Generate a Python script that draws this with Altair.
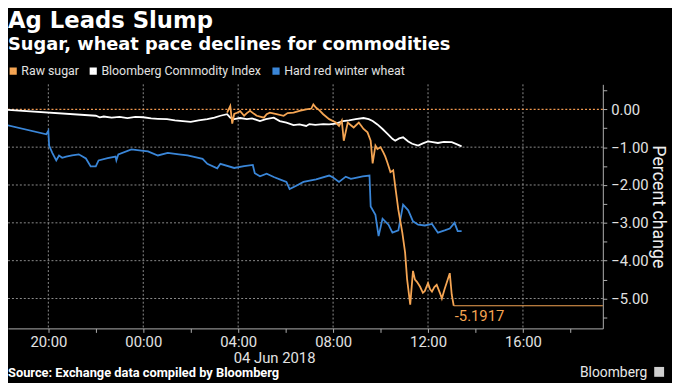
import altair as alt
import pandas as pd

# ---------------- data ----------------
series_names = ["Raw sugar", "Bloomberg Commodity Index", "Hard red winter wheat"]
series_colors = ["#f5a553", "#ffffff", "#3a86d8"]

bcom_time = [
    "2018-06-03T18:00", "2018-06-03T22:00", "2018-06-03T22:10", "2018-06-03T22:20",
    "2018-06-03T22:40", "2018-06-03T23:00", "2018-06-03T23:20", "2018-06-03T23:40",
    "2018-06-04T00:00", "2018-06-04T00:20", "2018-06-04T00:37", "2018-06-04T01:00",
    "2018-06-04T01:20", "2018-06-04T01:40", "2018-06-04T02:00", "2018-06-04T02:20",
    "2018-06-04T02:42", "2018-06-04T03:00", "2018-06-04T03:15", "2018-06-04T03:32",
    "2018-06-04T03:40", "2018-06-04T03:50", "2018-06-04T04:05", "2018-06-04T04:22",
    "2018-06-04T04:35", "2018-06-04T04:55", "2018-06-04T05:10", "2018-06-04T05:30",
    "2018-06-04T05:45", "2018-06-04T06:02", "2018-06-04T06:20", "2018-06-04T06:35",
    "2018-06-04T06:52", "2018-06-04T07:00", "2018-06-04T07:15", "2018-06-04T07:35",
    "2018-06-04T07:50", "2018-06-04T08:07", "2018-06-04T08:25", "2018-06-04T08:40",
    "2018-06-04T08:57", "2018-06-04T09:17", "2018-06-04T09:30", "2018-06-04T09:40",
    "2018-06-04T09:52", "2018-06-04T10:05", "2018-06-04T10:17", "2018-06-04T10:30",
    "2018-06-04T10:37", "2018-06-04T10:47", "2018-06-04T10:57", "2018-06-04T11:10",
    "2018-06-04T11:20", "2018-06-04T11:35", "2018-06-04T11:47", "2018-06-04T12:00",
    "2018-06-04T12:12", "2018-06-04T12:25", "2018-06-04T12:40", "2018-06-04T13:00",
    "2018-06-04T13:12", "2018-06-04T13:25",
]
bcom_value = [
    0.00, -0.17, -0.21, -0.19,
    -0.22, -0.20, -0.23, -0.20,
    -0.21, -0.24, -0.25, -0.26,
    -0.29, -0.31, -0.33, -0.29,
    -0.26, -0.22, -0.17, -0.13,
    -0.22, -0.26, -0.23, -0.26,
    -0.24, -0.31, -0.26, -0.22,
    -0.31, -0.35, -0.42, -0.40,
    -0.44, -0.39, -0.41, -0.39,
    -0.40, -0.38, -0.31, -0.29,
    -0.26, -0.23, -0.26, -0.31,
    -0.40, -0.52, -0.64, -0.78,
    -0.83, -0.77, -0.74, -0.85,
    -0.91, -0.96, -0.90, -0.85,
    -0.87, -0.89, -0.86, -0.87,
    -0.92, -0.98,
]

sugar_time = [
    "2018-06-04T03:32", "2018-06-04T03:40", "2018-06-04T03:45", "2018-06-04T03:50",
    "2018-06-04T03:57", "2018-06-04T04:05", "2018-06-04T04:15", "2018-06-04T04:22",
    "2018-06-04T04:30", "2018-06-04T04:40", "2018-06-04T04:47", "2018-06-04T05:05",
    "2018-06-04T05:12", "2018-06-04T05:20", "2018-06-04T05:37", "2018-06-04T05:55",
    "2018-06-04T06:05", "2018-06-04T06:20", "2018-06-04T06:35", "2018-06-04T06:52",
    "2018-06-04T07:05", "2018-06-04T07:10", "2018-06-04T07:17", "2018-06-04T07:25",
    "2018-06-04T07:35", "2018-06-04T07:50", "2018-06-04T08:07", "2018-06-04T08:15",
    "2018-06-04T08:22", "2018-06-04T08:27", "2018-06-04T08:37", "2018-06-04T08:45",
    "2018-06-04T08:52", "2018-06-04T09:05", "2018-06-04T09:12", "2018-06-04T09:17",
    "2018-06-04T09:27", "2018-06-04T09:35", "2018-06-04T09:40", "2018-06-04T09:47",
    "2018-06-04T09:52", "2018-06-04T10:00", "2018-06-04T10:07", "2018-06-04T10:12",
    "2018-06-04T10:17", "2018-06-04T10:25", "2018-06-04T10:32", "2018-06-04T10:37",
    "2018-06-04T10:45", "2018-06-04T10:55", "2018-06-04T11:02", "2018-06-04T11:07",
    "2018-06-04T11:15", "2018-06-04T11:22", "2018-06-04T11:27", "2018-06-04T11:32",
    "2018-06-04T11:40", "2018-06-04T11:47", "2018-06-04T11:52", "2018-06-04T12:00",
    "2018-06-04T12:05", "2018-06-04T12:10", "2018-06-04T12:16", "2018-06-04T12:22",
    "2018-06-04T12:30", "2018-06-04T12:35", "2018-06-04T12:42", "2018-06-04T12:47",
    "2018-06-04T12:55", "2018-06-04T13:00", "2018-06-04T13:05",
]
sugar_value = [
    -0.09, 0.09, -0.38, -0.12,
    -0.09, -0.05, -0.17, -0.10,
    -0.04, -0.12, -0.17, -0.22,
    -0.13, -0.09, -0.13, -0.17,
    -0.10, -0.09, -0.04, 0.00,
    0.02, 0.13, 0.04, -0.02,
    -0.13, -0.26, -0.35, -0.44,
    -0.30, -0.83, -0.35, -0.42,
    -0.48, -0.35, -0.45, -0.52,
    -0.61, -0.83, -1.43, -0.96,
    -1.05, -1.00, -1.14, -1.25,
    -1.40, -1.66, -1.61, -2.03,
    -2.66, -3.26, -3.78, -4.48,
    -5.16, -4.27, -4.50, -4.56,
    -4.69, -4.85, -4.80, -4.59,
    -4.75, -4.82, -4.70, -4.64,
    -4.85, -5.00, -4.75, -4.59,
    -4.33, -4.90, -5.1917,
]

wheat_time = [
    "2018-06-03T18:00", "2018-06-03T19:55", "2018-06-03T20:00", "2018-06-03T20:02",
    "2018-06-03T20:10", "2018-06-03T20:20", "2018-06-03T20:27", "2018-06-03T20:35",
    "2018-06-03T20:45", "2018-06-03T21:00", "2018-06-03T21:17", "2018-06-03T21:35",
    "2018-06-03T21:47", "2018-06-03T22:00", "2018-06-03T22:07", "2018-06-03T22:30",
    "2018-06-03T22:50", "2018-06-03T22:52", "2018-06-03T22:57", "2018-06-03T23:30",
    "2018-06-03T23:55", "2018-06-04T00:12", "2018-06-04T00:37", "2018-06-04T01:02",
    "2018-06-04T01:30", "2018-06-04T01:52", "2018-06-04T02:30", "2018-06-04T02:42",
    "2018-06-04T03:07", "2018-06-04T03:15", "2018-06-04T03:50", "2018-06-04T04:15",
    "2018-06-04T04:37", "2018-06-04T04:42", "2018-06-04T04:55", "2018-06-04T05:12",
    "2018-06-04T05:30", "2018-06-04T05:45", "2018-06-04T06:02", "2018-06-04T06:10",
    "2018-06-04T06:27", "2018-06-04T06:45", "2018-06-04T07:17", "2018-06-04T07:50",
    "2018-06-04T08:00", "2018-06-04T08:15", "2018-06-04T08:32", "2018-06-04T08:45",
    "2018-06-04T08:57", "2018-06-04T09:15", "2018-06-04T09:32", "2018-06-04T09:35",
    "2018-06-04T09:47", "2018-06-04T09:55", "2018-06-04T10:05", "2018-06-04T10:20",
    "2018-06-04T10:30", "2018-06-04T10:45", "2018-06-04T10:57", "2018-06-04T11:10",
    "2018-06-04T11:22", "2018-06-04T11:35", "2018-06-04T11:52", "2018-06-04T12:10",
    "2018-06-04T12:25", "2018-06-04T12:42", "2018-06-04T12:55", "2018-06-04T13:07",
    "2018-06-04T13:15", "2018-06-04T13:25",
]
wheat_value = [
    -0.38, -0.66, -0.57, -0.96,
    -1.15, -1.35, -1.22, -1.28,
    -1.25, -1.22, -1.19, -1.30,
    -1.51, -1.51, -1.35, -1.29,
    -1.25, -1.35, -1.19, -1.06,
    -1.09, -1.11, -1.22, -1.15,
    -1.19, -1.22, -1.31, -1.44,
    -1.56, -1.44, -1.55, -1.50,
    -1.47, -1.69, -1.77, -1.70,
    -1.79, -1.85, -1.92, -2.11,
    -2.02, -1.92, -1.85, -1.75,
    -1.80, -1.92, -1.78, -1.84,
    -1.81, -1.77, -1.75, -2.57,
    -2.79, -3.35, -2.89, -3.05,
    -3.26, -3.20, -2.52, -2.67,
    -2.96, -3.05, -3.07, -3.03,
    -3.26, -3.20, -3.15, -3.00,
    -3.22, -3.22,
]

last_sugar_time = ["2018-06-04T13:05"]
last_sugar_value = [-5.1917]
last_sugar_label = ["-5.1917"]

x_tick_hours = [(3, 20), (3, 22), (4, 0), (4, 2), (4, 4), (4, 6), (4, 8),
                (4, 10), (4, 12), (4, 14), (4, 16), (4, 18)]
x_grid_times = ["2018-06-03T20:00", "2018-06-04T00:00", "2018-06-04T04:00",
                "2018-06-04T08:00", "2018-06-04T12:00", "2018-06-04T16:00"]
y_tick_values = [0.5, 0.0, -0.5, -1.0, -1.5, -2.0, -2.5, -3.0, -3.5, -4.0, -4.5, -5.0, -5.5]
y_grid_values = [-1.0, -2.0, -3.0, -4.0, -5.0]
y_zero_value = [0.0]
date_label_time = ["2018-06-04T05:32"]
date_label_text = ["04 Jun 2018"]

title_text = "Ag Leads Slump"
subtitle_text = "Sugar, wheat pace declines for commodities"
source_text = "Source: Exchange data compiled by Bloomberg"
brand_text = "Bloomberg"

# ---------------- build table ----------------
frames = []
for name, ts, vs in [
    ("Bloomberg Commodity Index", bcom_time, bcom_value),
    ("Hard red winter wheat", wheat_time, wheat_value),
    ("Raw sugar", sugar_time, sugar_value),
]:
    frames.append(pd.DataFrame({"time": ts, "value": vs, "series": name}))
lines_df = pd.concat(frames, ignore_index=True)

W, H = 602, 247
ORANGE = series_colors[0]
AXIS_GRAY = "#b0b0b0"
GRID_GRAY = "#8c8c8c"
LABEL = "#e2e2e2"
FONT = "Roboto"

x_scale = alt.Scale(domain=[
    alt.DateTime(year=2018, month=6, date=3, hours=18, minutes=18),
    alt.DateTime(year=2018, month=6, date=4, hours=19, minutes=22),
])
y_scale = alt.Scale(domain=[-5.79, 0.66], nice=False, zero=False)

x_axis = alt.Axis(
    title=None,
    values=[alt.DateTime(year=2018, month=6, date=d, hours=h) for d, h in x_tick_hours],
    format="%H:%M",
    labelExpr="hours(datum.value) % 4 === 0 ? datum.label : ''",
    grid=False,
    domainColor=AXIS_GRAY,
    tickColor=AXIS_GRAY,
    tickSize=4,
    labelColor=LABEL,
    labelFont=FONT,
    labelFontSize=15,
    labelPadding=2,
    labelFlush=False,
    labelOverlap=False,
)
y_axis = alt.Axis(
    orient="right",
    title="Percent change",
    values=y_tick_values,
    format=".2f",
    labelExpr="datum.value % 1 === 0 ? datum.label : ''",
    grid=False,
    domainColor=AXIS_GRAY,
    tickColor=AXIS_GRAY,
    tickSize=4,
    labelColor=LABEL,
    labelFont=FONT,
    labelFontSize=15,
    labelPadding=4,
    labelFlush=False,
    labelOverlap=False,
    titleAngle=90,
    titleFont=FONT,
    titleFontSize=18,
    titleFontWeight="normal",
    titleColor="#eeeeee",
    titlePadding=0,
)

X = alt.X("time:T", scale=x_scale, axis=x_axis)
Y = alt.Y("value:Q", scale=y_scale, axis=y_axis)

xgrid = alt.Chart(pd.DataFrame({"time": x_grid_times})).mark_rule(
    color=GRID_GRAY, strokeDash=[2, 2], strokeWidth=1
).encode(x=X)
ygrid = alt.Chart(pd.DataFrame({"value": y_grid_values})).mark_rule(
    color=GRID_GRAY, strokeDash=[2, 2], strokeWidth=1
).encode(y=Y)
yzero = alt.Chart(pd.DataFrame({"value": y_zero_value})).mark_rule(
    color="#f0984f", strokeDash=[2, 2], strokeWidth=1.2
).encode(y=Y)

lines = alt.Chart(lines_df).mark_line(strokeWidth=1.8, clip=True).encode(
    x=X,
    y=Y,
    color=alt.Color(
        "series:N",
        scale=alt.Scale(domain=series_names, range=series_colors),
        legend=alt.Legend(
            orient="none", legendX=-1, legendY=-20, direction="horizontal", title=None,
            symbolType="square", symbolSize=14, symbolStrokeWidth=3.5,
            labelFont=FONT, labelFontSize=12.5, labelColor=LABEL, labelLimit=400,
            columnPadding=5, labelOffset=2,
        ),
    ),
)

last_df = pd.DataFrame({"time": last_sugar_time, "value": last_sugar_value, "label": last_sugar_label})
last_rule = alt.Chart(last_df).mark_rule(color=ORANGE, strokeWidth=1).encode(
    x=X, x2=alt.value(W), y=Y
)
last_text = alt.Chart(last_df).mark_text(
    align="left", baseline="top", dx=1, dy=3, font=FONT, fontSize=15, color=ORANGE
).encode(x=X, y=Y, text="label:N")

date_df = pd.DataFrame({"time": date_label_time, "label": date_label_text})
date_text = alt.Chart(date_df).mark_text(
    align="center", baseline="middle", font=FONT, fontSize=15, color=LABEL
).encode(x=X, y=alt.value(H + 30), text="label:N")


def label(text, x, y, **kw):
    return alt.Chart(pd.DataFrame({"t": [text]})).mark_text(**kw).encode(
        x=alt.value(x), y=alt.value(y), text="t:N"
    )


title = label(title_text, 0, -57, align="left", baseline="alphabetic",
              font="DejaVu Sans", fontWeight="bold", fontSize=23, color="#ffffff")
subtitle = label(subtitle_text, 0, -35, align="left", baseline="alphabetic",
                 font="DejaVu Sans", fontWeight="bold", fontSize=18, color="#ffffff")
source = label(source_text, 0, 296, align="left", baseline="alphabetic",
               font=FONT, fontWeight="bold", fontSize=13, color="#ffffff")
brand = label(brand_text, 647, 296, align="right", baseline="alphabetic",
              font=FONT, fontSize=14, color="#e8e8e8")
logo = alt.Chart(pd.DataFrame({"t": [brand_text]})).mark_square(
    size=100, color="#cfcfcf", opacity=1
).encode(x=alt.value(659), y=alt.value(291))

chart = alt.layer(
    xgrid, ygrid, yzero, lines, last_rule, last_text, date_text,
    title, subtitle, source, brand, logo
).properties(
    width=W,
    height=H,
    padding={"left": 0, "top": 75, "right": 70, "bottom": 53},
    autosize=alt.AutoSizeParams(type="none"),
    background="#000000",
).configure_view(stroke=None)

chart.save("out.html", embed_options={"renderer": "svg", "actions": False})
